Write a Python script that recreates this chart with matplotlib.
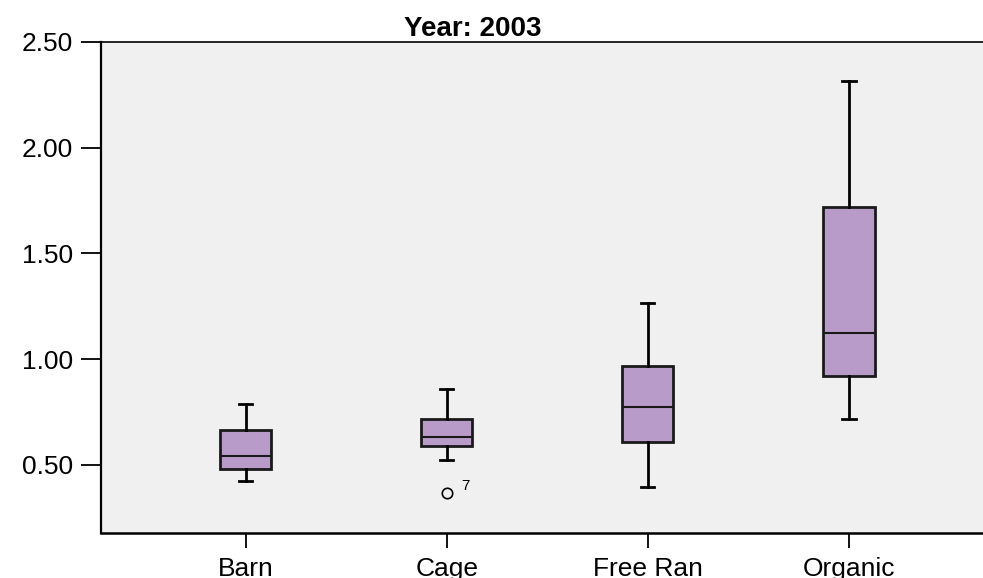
import matplotlib.pyplot as plt

# egg prices by production system, year 2003
groups = ["Barn", "Cage", "Free Ran", "Organic"]
whis_lo = [0.426, 0.524, 0.397, 0.716]
q1 = [0.483, 0.590, 0.609, 0.921]
medians = [0.544, 0.632, 0.773, 1.124]
q3 = [0.667, 0.719, 0.969, 1.720]
whis_hi = [0.788, 0.859, 1.266, 2.317]
outliers = [[], [0.369], [], []]
outlier_ids = [[], ["7"], [], []]

plt.rcParams['font.family'] = ['Liberation Sans', 'DejaVu Sans']

stats = []
for i in range(len(groups)):
    stats.append({"label": groups[i], "whislo": whis_lo[i], "q1": q1[i],
                  "med": medians[i], "q3": q3[i], "whishi": whis_hi[i],
                  "fliers": outliers[i]})

fig = plt.figure(figsize=(9.83, 5.78), dpi=100)
ax = fig.add_axes([0.1027, 0.0779, 0.9084, 0.8495])
ax.set_facecolor('#F0F0F0')

ax.bxp(stats, positions=range(len(groups)), widths=0.254, capwidths=0.065,
       patch_artist=True, showfliers=True,
       boxprops=dict(facecolor='#B99BC9', edgecolor='#1a1a1a', linewidth=2.0),
       medianprops=dict(color='#1a1a1a', linewidth=1.5),
       whiskerprops=dict(color='black', linewidth=2.0),
       capprops=dict(color='black', linewidth=2.0),
       flierprops=dict(marker='o', markersize=7.5, markerfacecolor='none',
                       markeredgecolor='black', markeredgewidth=1.2))

# case numbers next to the outliers
for i in range(len(groups)):
    for v, name in zip(outliers[i], outlier_ids[i]):
        ax.annotate(name, (i, v), xytext=(10, 2), textcoords='offset points',
                    ha='left', va='baseline', fontsize=11)

ax.set_xlim(-0.721, 3.721)
ax.set_ylim(0.1785, 2.5)
ax.set_yticks([0.5, 1.0, 1.5, 2.0, 2.5])
ax.set_yticklabels(["0.50", "1.00", "1.50", "2.00", "2.50"])
ax.set_xticks(range(len(groups)))
ax.set_xticklabels(groups)

ax.tick_params(axis='y', direction='out', length=14.4, width=1.3, pad=5.5,
               labelsize=19, colors='black')
ax.tick_params(axis='x', direction='out', length=10.8, width=1.3, pad=6.5,
               labelsize=19, colors='black')

ax.spines['right'].set_visible(False)
ax.spines['top'].set_linewidth(1.2)
ax.spines['left'].set_linewidth(1.6)
ax.spines['bottom'].set_linewidth(1.8)

fig.text(0.4809, 0.9377, "Year: 2003", ha='center', va='baseline',
         fontsize=20, fontweight='bold')

plt.savefig("out.png", dpi=100)
